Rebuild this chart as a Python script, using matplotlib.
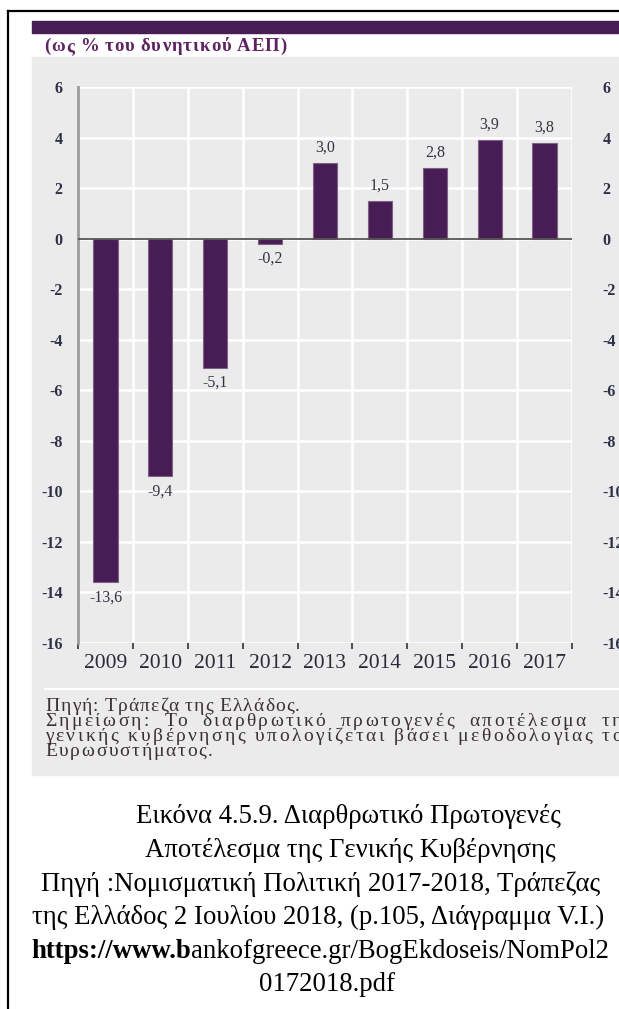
import matplotlib
matplotlib.use("Agg")
import matplotlib.pyplot as plt
from matplotlib.patches import Rectangle
from matplotlib.lines import Line2D
from matplotlib.font_manager import FontProperties

years = ["2009", "2010", "2011", "2012", "2013", "2014", "2015", "2016", "2017"]
values = [-13.6, -9.4, -5.1, -0.2, 3.0, 1.5, 2.8, 3.9, 3.8]
y_ticks = [6, 4, 2, 0, -2, -4, -6, -8, -10, -12, -14, -16]

subtitle = "(ως % του δυνητικού ΑΕΠ)"
source_line = "Πηγή: Τράπεζα της Ελλάδος."
note_lines = [
    "Σημείωση: Το διαρθρωτικό πρωτογενές αποτέλεσμα της",
    "γενικής κυβέρνησης υπολογίζεται βάσει μεθοδολογίας του",
]
note_last = "Ευρωσυστήματος."
caption_lines = [
    "Εικόνα 4.5.9. Διαρθρωτικό Πρωτογενές",
    "Αποτέλεσμα της Γενικής Κυβέρνησης",
    "Πηγή :Νομισματική Πολιτική 2017-2018, Τράπεζας",
    "της Ελλάδος 2 Ιουλίου 2018, (p.105, Διάγραμμα V.I.)",
]
url_bold = "https://www.b"
url_rest = "ankofgreece.gr/BogEkdoseis/NomPol2"
url_end = "0172018.pdf"

SERIF = "Liberation Serif"
PURPLE = "#481d55"
PANEL = "#ebebeb"
TICK_COLOR = "#2f2f48"
NOTE_COLOR = "#3a3036"

W, H = 619, 1009
fig = plt.figure(figsize=(W / 100, H / 100), dpi=100)
renderer = fig.canvas.get_renderer()


def fx(px):
    return px / W


def fy(py):
    return 1 - py / H


def tw(s, size, weight="normal"):
    if not s:
        return 0.0
    fp = FontProperties(family=SERIF, size=size, weight=weight)
    w, _, _ = renderer.get_text_width_height_descent(s, fp, ismath=False)
    return w


def place_word(word, x0, y, size, track, weight="normal", color="black"):
    # draw one word letter by letter, keeping natural advances plus tracking
    for i, ch in enumerate(word):
        pos = x0 + tw(word[:i + 1], size, weight) - tw(ch, size, weight) + track * i
        fig.text(fx(pos), fy(y), ch, family=SERIF, fontsize=size,
                 fontweight=weight, color=color, va="baseline")
    return tw(word, size, weight) + track * (len(word) - 1)


def fit_line(s, x0, x1, y, size, weight="normal", color="black"):
    words = s.split(" ")
    sp = tw("x x", size, weight) - 2 * tw("x", size, weight)
    natural = sum(tw(w, size, weight) for w in words) + sp * (len(words) - 1)
    steps = sum(len(w) - 1 for w in words) + (len(words) - 1)
    track = (x1 - x0 - natural) / steps
    pos = x0
    for w in words:
        pos += place_word(w, pos, y, size, track, weight, color) + sp + track


def justify(line, x0, x1, y, size, track, color):
    words = line.split()
    widths = [tw(w, size) + track * (len(w) - 1) for w in words]
    gap = (x1 - x0 - sum(widths)) / (len(words) - 1)
    pos = x0
    for w, wd in zip(words, widths):
        place_word(w, pos, y, size, track, color=color)
        pos += wd + gap


# page frame, header band and grey panel
fig.patches.append(Rectangle((fx(32), fy(775)), 1 - fx(32), fy(57) - fy(775),
                             transform=fig.transFigure, color=PANEL, zorder=-2))
fig.patches.append(Rectangle((fx(32), fy(33)), 1 - fx(32), fy(21) - fy(33),
                             transform=fig.transFigure, color=PURPLE, zorder=-2))
fig.lines.append(Line2D([fx(8), fx(8)], [fy(11), 0], transform=fig.transFigure,
                        color="black", lw=1.6, zorder=-1))
fig.lines.append(Line2D([fx(8), 1], [fy(11), fy(11)], transform=fig.transFigure,
                        color="black", lw=1.6, zorder=-1))
fig.lines.append(Line2D([fx(45), 1], [fy(689), fy(689)], transform=fig.transFigure,
                        color="white", lw=1.5, zorder=-1))

fit_line(subtitle, 44, 287, 51, 13.5, weight="bold", color="#5c2360")

# bar chart
ax = fig.add_axes([fx(78), fy(643), fx(572) - fx(78), fy(87) - fy(643)])
ax.set_zorder(1)
ax.patch.set_visible(False)
x = list(range(len(years)))
ax.bar(x, values, width=0.44, color=PURPLE, edgecolor="#7d6286", linewidth=0.8,
       zorder=3)
ax.axhline(0, color="#555555", lw=1.3, zorder=4)

ax.set_xlim(-0.5, len(years) - 0.5)
ax.set_ylim(-16, 6)
ax.set_yticks(y_ticks)
ax.set_yticklabels([str(t) for t in y_ticks])
ax.set_xticks(x)
ax.set_xticklabels(years)
ax.set_xticks([i - 0.5 for i in range(len(years) + 1)], minor=True)
ax.grid(True, which="minor", axis="x", color="white", lw=1.8, zorder=1)
ax.grid(True, which="major", axis="y", color="white", lw=1.8, zorder=1)
ax.tick_params(axis="x", which="major", length=0, pad=8, labelsize=15.5)
ax.tick_params(axis="x", which="minor", length=4, width=1.2, color="#333333",
               direction="out")
ax.tick_params(axis="y", length=0, pad=11, labelsize=11.5, labelcolor=TICK_COLOR)
for lab in ax.get_xticklabels():
    lab.set_family(SERIF)
    lab.set_color("#2a2a3a")
for lab in ax.get_yticklabels():
    lab.set_family(SERIF)
    lab.set_fontweight("bold")
for side in ["top", "right", "bottom"]:
    ax.spines[side].set_visible(False)
ax.spines["left"].set_color("#9a9a9a")
ax.spines["left"].set_linewidth(2)

for i, v in zip(x, values):
    label = f"{v:.1f}".replace(".", ",")
    ax.annotate(label, xy=(i, v), xytext=(0, 5 if v > 0 else -5),
                textcoords="offset points", ha="center",
                va="bottom" if v > 0 else "top", family=SERIF, fontsize=11.5,
                color="#333344", zorder=5)

ax2 = ax.twinx()
ax2.set_zorder(2)
ax2.set_ylim(-16, 6)
ax2.set_yticks(y_ticks)
ax2.set_yticklabels([str(t) for t in y_ticks])
ax2.tick_params(axis="y", length=0, pad=22, labelsize=11.5, labelcolor=TICK_COLOR)
for lab in ax2.get_yticklabels():
    lab.set_family(SERIF)
    lab.set_fontweight("bold")
for side in ax2.spines:
    ax2.spines[side].set_visible(False)

# notes inside the panel
NOTE_SIZE = 14
fit_line(source_line, 45, 300, 711, NOTE_SIZE, color=NOTE_COLOR)
justify(note_lines[0], 45, 632, 726, NOTE_SIZE, 2.4, NOTE_COLOR)
justify(note_lines[1], 45, 634, 741, NOTE_SIZE, 2.4, NOTE_COLOR)
fit_line(note_last, 45, 213, 756, NOTE_SIZE, color=NOTE_COLOR)

# caption below the figure
CAP = 19.3
cap_kw = dict(family=SERIF, fontsize=CAP, color="black", va="baseline", ha="center")
cap_y = [823, 857, 891, 924]
cap_x = [348, 350, 321, 318]
for line, cx, cy in zip(caption_lines, cap_x, cap_y):
    fig.text(fx(cx), fy(cy), line, **cap_kw)

t_bold = fig.text(0, fy(958), url_bold, family=SERIF, fontsize=CAP,
                  fontweight="bold", va="baseline")
t_rest = fig.text(0, fy(958), url_rest, family=SERIF, fontsize=CAP, va="baseline")
wb = t_bold.get_window_extent(renderer).width
wr = t_rest.get_window_extent(renderer).width
start = 320 - (wb + wr) / 2
t_bold.set_x(fx(start))
t_rest.set_x(fx(start + wb))
fig.text(fx(327), fy(991), url_end, **cap_kw)

fig.savefig("out.png", dpi=100, facecolor="white")
